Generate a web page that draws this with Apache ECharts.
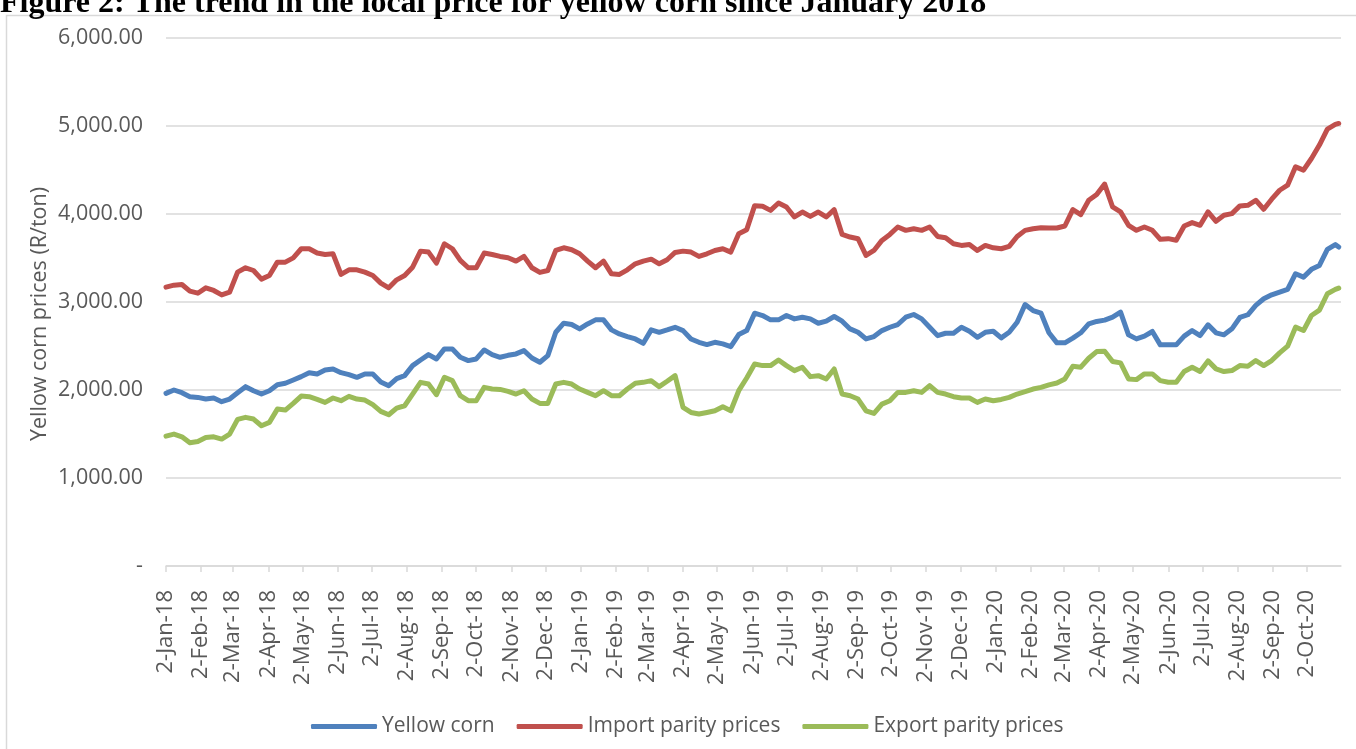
<!DOCTYPE html>
<html><head><meta charset="utf-8">
<script src="https://cdn.jsdelivr.net/npm/echarts@6/dist/echarts.min.js"></script>
<style>html,body{margin:0;padding:0;background:#fff}#c{width:1356px;height:749px}</style>
</head><body><div id="c"></div>
<script>
// ---- axis range (calendar days) ----
const axisStart = '2018-01-02';
const axisEnd = '2020-11-01';
// ---- samples: weekly readings from 2-Jan-18, plus the last reading ----
const sampleStart = '2018-01-02';
const sampleStepDays = 7;
const lastSample = '2020-10-30';

const seriesNames = ['Yellow corn', 'Import parity prices', 'Export parity prices'];

const yellowCorn = [
  1962,2000,1969,1924,1916,1897,1909,1867,1897,1969,2038,1992,1954,1992,2060,2076,2114,2152,2197,2182,2227,2239,2197,2174,2144,2182,2182,2091,2049,2129,2163,2277,2341,2402,2353,2467,2467,
  2372,2334,2353,2455,2402,2372,2394,2410,2448,2364,2315,2391,2656,2759,2744,2694,2751,2797,2797,2683,2637,2607,2580,2531,2683,2656,2683,2713,2675,2580,2542,2516,2542,2524,2493,2630,2675,2873,
  2846,2797,2797,2846,2808,2827,2808,2759,2782,2835,2782,2694,2656,2580,2607,2675,2713,2744,2827,2858,2808,2713,2618,2645,2645,2713,2668,2599,2656,2668,2592,2656,2770,2971,2903,2873,
  2650,2536,2536,2589,2650,2752,2779,2794,2828,2885,2627,2581,2612,2665,2513,2513,2513,2612,2676,2619,2741,2650,2627,2695,2824,2855,2961,3037,3082,3113,3143,3321,3283,3371,3416,3598,3652,
  3625
];
const importParity = [
  3169,3191,3199,3123,3100,3161,3131,3081,3112,3339,3389,3358,3260,3301,3453,3453,3502,3605,3605,3556,3540,3548,3313,3366,3366,3339,3301,3214,3161,3252,3301,3396,3578,3567,3442,3662,3605,
  3472,3389,3389,3556,3540,3518,3503,3465,3518,3389,3336,3358,3586,3616,3594,3548,3465,3389,3465,3320,3313,3366,3434,3465,3487,3434,3480,3563,3578,3567,3518,3548,3586,3605,3567,3776,3821,4095,
  4087,4041,4125,4079,3966,4022,3973,4022,3966,4049,3768,3738,3719,3529,3586,3700,3768,3852,3814,3833,3814,3852,3745,3730,3662,3643,3654,3586,3643,3616,3605,3632,3745,3814,3833,3844,
  3841,3841,3864,4050,3993,4156,4221,4340,4080,4024,3872,3815,3853,3815,3712,3720,3701,3864,3902,3872,4024,3917,3985,4004,4092,4099,4156,4054,4168,4270,4327,4536,4498,4631,4783,4965,5018,
  5029
];
const exportParity = [
  1476,1499,1468,1400,1415,1461,1468,1442,1499,1666,1689,1670,1594,1632,1783,1772,1848,1931,1924,1893,1859,1909,1878,1928,1897,1886,1833,1757,1719,1795,1821,1954,2087,2068,1947,2144,2106,
  1935,1878,1878,2030,2011,2007,1985,1954,1992,1897,1848,1848,2068,2087,2068,2011,1973,1935,1992,1935,1935,2011,2076,2087,2106,2038,2099,2163,1802,1745,1727,1745,1764,1810,1764,1992,2136,2296,
  2277,2277,2341,2277,2220,2258,2152,2163,2125,2239,1954,1935,1897,1764,1734,1840,1878,1973,1973,1992,1973,2049,1973,1954,1924,1909,1909,1859,1897,1878,1893,1916,1954,1981,2011,2030,
  2058,2080,2126,2270,2259,2361,2437,2440,2323,2308,2126,2118,2183,2183,2107,2088,2088,2210,2259,2210,2331,2240,2210,2221,2278,2270,2335,2278,2335,2422,2498,2714,2676,2847,2908,3094,3143,
  3158
];
const yMin = 0, yMax = 6000, yStep = 1000;

const months = ['Jan','Feb','Mar','Apr','May','Jun','Jul','Aug','Sep','Oct','Nov','Dec'];
const DAY = 86400000;
function fmt(t) { const d = new Date(t); return d.getUTCDate() + '-' + months[d.getUTCMonth()] + '-' + String(d.getUTCFullYear()).slice(2); }
function ts(s) { return Date.parse(s + 'T00:00:00Z'); }

const categories = [];
for (let t = ts(axisStart); t <= ts(axisEnd); t += DAY) categories.push(fmt(t));

const sampleIdx = [];
for (let t = ts(sampleStart); t < ts(lastSample); t += sampleStepDays * DAY) sampleIdx.push(categories.indexOf(fmt(t)));
sampleIdx.length = yellowCorn.length - 1;
sampleIdx.push(categories.indexOf(fmt(ts(lastSample))));

const colors = ['#4F81BD', '#C0504D', '#9BBB59'];
const values = [yellowCorn, importParity, exportParity];
const isTick = (i, v) => v.indexOf('2-') === 0;
const FONT = '"Open Sans", "Liberation Sans", sans-serif';

const chart = echarts.init(document.getElementById('c'), null, { renderer: 'canvas' });
chart.setOption({
  animation: false,
  backgroundColor: '#fff',
  grid: { left: 166, right: 15, top: 38, bottom: 183, containLabel: false },
  legend: {
    data: seriesNames, left: 306, top: 711, icon: 'roundRect', itemWidth: 66, itemHeight: 5, itemGap: 22,
    textStyle: { fontSize: 21, color: '#595959', fontFamily: FONT }
  },
  xAxis: {
    type: 'category', data: categories, boundaryGap: false,
    axisLine: { lineStyle: { color: '#d9d9d9', width: 1.5 } },
    axisTick: { show: true, interval: isTick, length: 6, lineStyle: { color: '#d9d9d9', width: 1.5 } },
    axisLabel: { interval: isTick, rotate: 90, margin: 24, fontSize: 22, color: '#595959', fontFamily: FONT },
    splitLine: { show: false }
  },
  yAxis: {
    type: 'value', min: yMin, max: yMax, interval: yStep,
    axisLine: { show: false }, axisTick: { show: false },
    axisLabel: { margin: 23, fontSize: 21.5, color: '#595959', fontFamily: FONT,
      formatter: v => v === 0 ? '-' : v.toLocaleString('en-US', { minimumFractionDigits: 2, maximumFractionDigits: 2 }) },
    splitLine: { lineStyle: { color: '#d9d9d9', width: 1.5 } }
  },
  graphic: [
    { type: 'rect', shape: { x: 6.5, y: 15.5, width: 1400, height: 800 }, style: { fill: 'none', stroke: '#d9d9d9', lineWidth: 1.5 }, z: 0, silent: true },
    { type: 'text', x: 0, y: 3.5, z: 10, style: { text: 'Figure 2: The trend in the local price for yellow corn since January 2018', font: 'bold 32px "Liberation Serif", serif', fill: '#000', verticalAlign: 'middle', align: 'left' } },
    { type: 'text', x: 40, y: 314, rotation: Math.PI / 2, z: 10, style: { text: 'Yellow corn prices (R/ton)', font: '21.5px ' + FONT, fill: '#595959', align: 'center', verticalAlign: 'middle' } }
  ],
  series: values.map((vals, s) => ({
    name: seriesNames[s], type: 'line', showSymbol: false, symbol: 'none',
    data: vals.map((v, i) => [sampleIdx[i], v]),
    lineStyle: { color: colors[s], width: 5, cap: 'round', join: 'round' },
    itemStyle: { color: colors[s] }
  }))
});
</script></body></html>
